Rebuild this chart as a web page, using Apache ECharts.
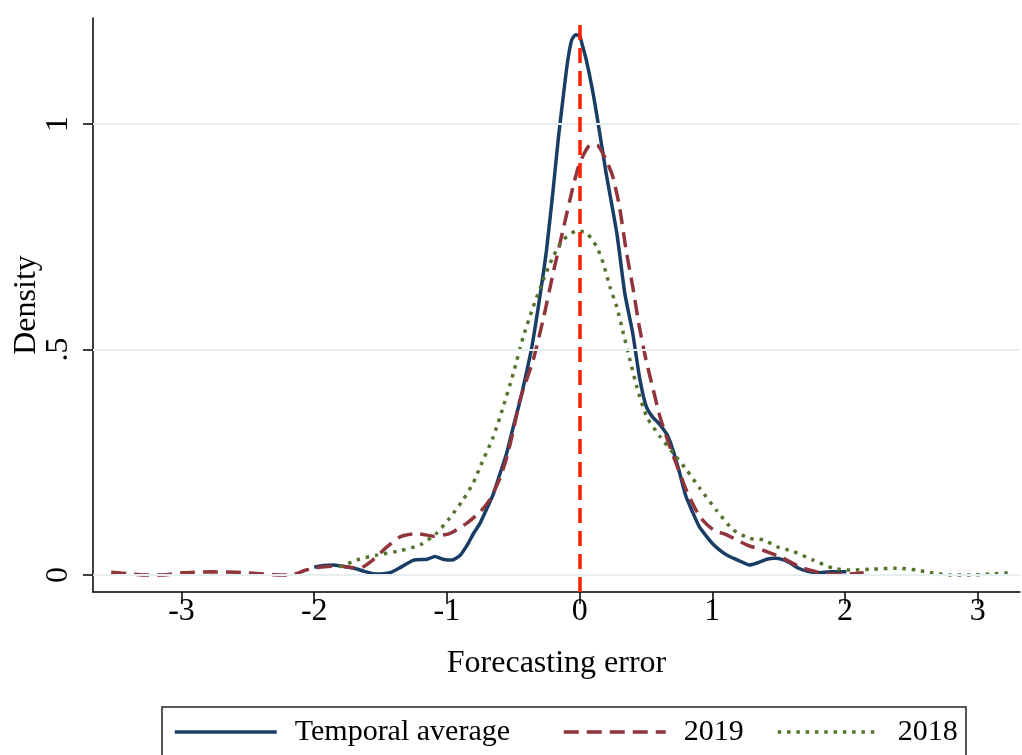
<!DOCTYPE html>
<html>
<head>
    <meta charset="utf-8">
    <title>Forecasting error density</title>
    <style type="text/css">
        html, body { margin: 0; padding: 0; background: #fff; }
        #main { width: 1022px; height: 755px; }
    </style>
</head>
<body>
    <div id="main"></div>
    <script src="https://cdn.jsdelivr.net/npm/echarts@6/dist/echarts.min.js"></script>
    <script type="text/javascript">
        // tick values
        var xTicks = [-3, -2, -1, 0, 1, 2, 3];
        var yTicks = [0, 0.5, 1];

        // kernel density, temporal average [x, density]
        var temporalAvg = [
            [-2.0, 0.017], [-1.93, 0.021], [-1.86, 0.022], [-1.78, 0.019], [-1.70, 0.015],
            [-1.62, 0.008], [-1.53, 0.002], [-1.43, 0.005], [-1.35, 0.017], [-1.25, 0.033],
            [-1.15, 0.035], [-1.09, 0.041], [-1.03, 0.035], [-0.965, 0.033], [-0.90, 0.044],
            [-0.85, 0.065], [-0.80, 0.092], [-0.75, 0.115], [-0.70, 0.147], [-0.65, 0.18],
            [-0.60, 0.225], [-0.55, 0.27], [-0.50, 0.329], [-0.45, 0.385], [-0.40, 0.45],
            [-0.36, 0.506], [-0.30, 0.617], [-0.25, 0.72], [-0.20, 0.854], [-0.16, 0.97],
            [-0.12, 1.07], [-0.09, 1.14], [-0.06, 1.186], [-0.03, 1.198], [0.00, 1.195],
            [0.02, 1.175], [0.05, 1.142], [0.10, 1.07], [0.14, 1.0], [0.20, 0.89],
            [0.28, 0.758], [0.34, 0.625], [0.40, 0.536], [0.45, 0.44], [0.50, 0.375],
            [0.55, 0.35], [0.60, 0.335], [0.66, 0.31], [0.70, 0.28], [0.75, 0.23],
            [0.80, 0.175], [0.85, 0.14], [0.90, 0.108], [0.95, 0.088], [1.0, 0.07],
            [1.07, 0.052], [1.13, 0.041], [1.20, 0.032], [1.28, 0.022], [1.35, 0.028],
            [1.41, 0.035], [1.47, 0.037], [1.53, 0.034], [1.59, 0.026], [1.65, 0.015],
            [1.72, 0.008], [1.79, 0.005], [1.90, 0.007], [2.01, 0.007]
        ];

        // 2019
        var y2019 = [
            [-3.53, 0.006], [-3.40, 0.003], [-3.29, 0.0], [-3.14, 0.0], [-2.99, 0.005],
            [-2.76, 0.007], [-2.59, 0.006], [-2.41, 0.003], [-2.26, 0.0], [-2.18, 0.0],
            [-2.06, 0.011], [-1.96, 0.017], [-1.81, 0.02], [-1.66, 0.015], [-1.56, 0.033],
            [-1.45, 0.063], [-1.35, 0.085], [-1.23, 0.092], [-1.10, 0.086], [-0.98, 0.092],
            [-0.85, 0.115], [-0.75, 0.14], [-0.68, 0.166], [-0.60, 0.215], [-0.55, 0.26],
            [-0.50, 0.32], [-0.45, 0.388], [-0.35, 0.477], [-0.27, 0.573], [-0.20, 0.669],
            [-0.12, 0.772], [-0.05, 0.861], [0.0, 0.913], [0.08, 0.953], [0.13, 0.953],
            [0.20, 0.92], [0.25, 0.883], [0.30, 0.817], [0.35, 0.72], [0.40, 0.639],
            [0.45, 0.55], [0.50, 0.477], [0.555, 0.41], [0.605, 0.351], [0.68, 0.284],
            [0.756, 0.225], [0.81, 0.184], [0.906, 0.129], [1.007, 0.10], [1.108, 0.089],
            [1.258, 0.067], [1.41, 0.052], [1.534, 0.037], [1.66, 0.018], [1.786, 0.007],
            [1.91, 0.002], [2.01, 0.002], [2.14, 0.005]
        ];

        // 2018
        var y2018 = [
            [-1.81, 0.018], [-1.66, 0.035], [-1.53, 0.044], [-1.35, 0.054], [-1.20, 0.067],
            [-1.08, 0.092], [-0.98, 0.126], [-0.88, 0.166], [-0.80, 0.205], [-0.75, 0.24],
            [-0.65, 0.307], [-0.576, 0.373], [-0.50, 0.447], [-0.425, 0.528], [-0.35, 0.595],
            [-0.274, 0.654], [-0.20, 0.706], [-0.124, 0.743], [-0.023, 0.763], [0.053, 0.758],
            [0.128, 0.728], [0.178, 0.691], [0.228, 0.639], [0.279, 0.595], [0.329, 0.536],
            [0.379, 0.477], [0.43, 0.418], [0.505, 0.351], [0.605, 0.307], [0.706, 0.27],
            [0.806, 0.233], [0.906, 0.192], [1.03, 0.144], [1.157, 0.10], [1.283, 0.081],
            [1.384, 0.078], [1.485, 0.063], [1.61, 0.052], [1.76, 0.033], [1.91, 0.015],
            [2.037, 0.011], [2.212, 0.013], [2.389, 0.015], [2.54, 0.011], [2.665, 0.004],
            [2.79, 0.0], [2.94, 0.0], [3.09, 0.002], [3.24, 0.005]
        ];

        var serif = 'Liberation Serif';
        var myChart = echarts.init(document.getElementById('main'));

        var legendText = { fontFamily: serif, fontSize: 30, color: '#000', padding: [0, 0, 0, 13] };
        function legendAt(left, name) {
            return {
                left: left, top: 717, padding: 0,
                itemWidth: 102, itemHeight: 30,
                data: [name], textStyle: legendText,
                itemStyle: { opacity: 0 },
                lineStyle: { width: 3.5 },
                selectedMode: false
            };
        }

        var option = {
            backgroundColor: '#ffffff',
            animation: false,
            grid: { left: 93, right: 2, top: 18, bottom: 163, containLabel: false, outerBoundsMode: 'none' },
            xAxis: {
                type: 'value',
                min: -3.667,
                max: 3.318,
                name: 'Forecasting error',
                nameLocation: 'middle',
                nameGap: 56,
                nameMoveOverlap: false,
                nameTextStyle: { fontFamily: serif, fontSize: 32, color: '#000' },
                axisLine: { onZero: false, lineStyle: { color: '#000', width: 1.5 } },
                axisTick: { show: true, length: 12, customValues: xTicks, lineStyle: { color: '#000', width: 1.5 } },
                axisLabel: {
                    customValues: xTicks, margin: 4,
                    fontFamily: serif, fontSize: 32, color: '#000',
                    formatter: function (v) { return String(v); }
                },
                splitLine: { show: false }
            },
            yAxis: {
                type: 'value',
                min: -0.0377,
                max: 1.235,
                name: 'Density',
                nameLocation: 'middle',
                nameGap: 50,
                nameMoveOverlap: false,
                nameTextStyle: { fontFamily: serif, fontSize: 32, color: '#000' },
                axisLine: { onZero: false, lineStyle: { color: '#000', width: 1.5 } },
                axisTick: { show: true, length: 10, customValues: yTicks, lineStyle: { color: '#000', width: 1.5 } },
                axisLabel: {
                    customValues: yTicks, rotate: 90, margin: 18,
                    fontFamily: serif, fontSize: 32, color: '#000',
                    formatter: function (v) { return v === 0.5 ? '.5' : String(v); }
                },
                splitLine: { show: false }
            },
            legend: [
                legendAt(173, 'Temporal average'),
                legendAt(562, '2019'),
                legendAt(776, '2018')
            ],
            graphic: [{
                type: 'rect',
                shape: { x: 162, y: 707, width: 804, height: 70 },
                style: { fill: 'none', stroke: '#222', lineWidth: 1.5 },
                z: 0
            }],
            series: [
                {
                    name: 'grid',
                    type: 'line',
                    data: [],
                    z: 1,
                    silent: true,
                    markLine: {
                        silent: true,
                        symbol: 'none',
                        label: { show: false },
                        lineStyle: { color: '#e6eef2', width: 2, type: 'solid' },
                        data: yTicks.map(function (v) { return { yAxis: v }; })
                    }
                },
                {
                    name: 'Temporal average',
                    type: 'line',
                    data: temporalAvg,
                    symbol: 'none',
                    smooth: 0.2,
                    lineStyle: { color: '#1a3d66', width: 3.5 },
                    itemStyle: { color: '#1a3d66' }
                },
                {
                    name: '2019',
                    type: 'line',
                    data: y2019,
                    symbol: 'none',
                    smooth: 0.2,
                    lineStyle: { color: '#90353b', width: 3.5, type: [15, 8] },
                    itemStyle: { color: '#90353b' }
                },
                {
                    name: '2018',
                    type: 'line',
                    data: y2018,
                    symbol: 'none',
                    smooth: 0.2,
                    lineStyle: { color: '#55752f', width: 3.5, type: [3.5, 5.8] },
                    itemStyle: { color: '#55752f' },
                    markLine: {
                        silent: true,
                        symbol: 'none',
                        label: { show: false },
                        lineStyle: { color: '#ff2000', width: 3.5, type: [15, 8] },
                        data: [{ xAxis: 0 }]
                    }
                }
            ]
        };
        myChart.setOption(option);
    </script>
</body>
</html>
